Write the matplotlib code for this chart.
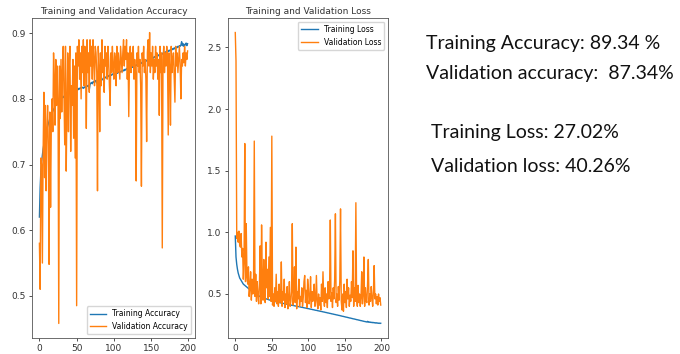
import numpy as np
import matplotlib
matplotlib.use('Agg')
import matplotlib.pyplot as plt

# ── Data (200 epochs) ────────────────────────────────────────────────────────
epochs = list(range(200))

train_acc = [
    0.620, 0.665, 0.690, 0.705, 0.715, 0.724, 0.731, 0.738, 0.744, 0.749,
    0.754, 0.758, 0.762, 0.766, 0.770, 0.773, 0.776, 0.779, 0.781, 0.784,
    0.786, 0.788, 0.790, 0.792, 0.793, 0.795, 0.796, 0.798, 0.799, 0.800,
    0.801, 0.803, 0.802, 0.804, 0.805, 0.804, 0.806, 0.807, 0.806, 0.808,
    0.809, 0.808, 0.810, 0.811, 0.810, 0.812, 0.811, 0.813, 0.812, 0.814,
    0.813, 0.815, 0.814, 0.816, 0.815, 0.817, 0.816, 0.818, 0.817, 0.816,
    0.818, 0.817, 0.819, 0.818, 0.820, 0.819, 0.821, 0.814, 0.822, 0.824,
    0.825, 0.823, 0.826, 0.825, 0.827, 0.826, 0.828, 0.824, 0.827, 0.829,
    0.828, 0.830, 0.829, 0.831, 0.830, 0.829, 0.832, 0.831, 0.833, 0.832,
    0.834, 0.833, 0.835, 0.834, 0.836, 0.835, 0.837, 0.836, 0.838, 0.837,
    0.838, 0.837, 0.839, 0.838, 0.840, 0.839, 0.841, 0.840, 0.842, 0.841,
    0.842, 0.843, 0.842, 0.844, 0.843, 0.845, 0.844, 0.846, 0.845, 0.847,
    0.846, 0.847, 0.848, 0.847, 0.849, 0.848, 0.850, 0.849, 0.851, 0.850,
    0.852, 0.851, 0.853, 0.852, 0.854, 0.853, 0.855, 0.854, 0.856, 0.855,
    0.857, 0.856, 0.858, 0.857, 0.859, 0.858, 0.860, 0.859, 0.861, 0.860,
    0.862, 0.861, 0.863, 0.862, 0.864, 0.863, 0.865, 0.864, 0.866, 0.865,
    0.867, 0.866, 0.868, 0.867, 0.869, 0.868, 0.870, 0.869, 0.871, 0.870,
    0.872, 0.871, 0.873, 0.872, 0.874, 0.873, 0.875, 0.874, 0.876, 0.875,
    0.877, 0.876, 0.878, 0.877, 0.879, 0.878, 0.880, 0.879, 0.881, 0.880,
    0.882, 0.887, 0.881, 0.884, 0.880, 0.883, 0.882, 0.885, 0.881, 0.884,
]

val_acc = [
    0.580, 0.510, 0.710, 0.700, 0.550, 0.720, 0.810, 0.680, 0.790, 0.660,
    0.750, 0.790, 0.730, 0.548, 0.780, 0.635, 0.760, 0.800, 0.750, 0.870,
    0.830, 0.760, 0.860, 0.790, 0.850, 0.800, 0.458, 0.850, 0.770, 0.860,
    0.780, 0.840, 0.880, 0.810, 0.730, 0.880, 0.690, 0.790, 0.870, 0.750,
    0.850, 0.880, 0.720, 0.820, 0.790, 0.860, 0.740, 0.850, 0.710, 0.870,
    0.485, 0.880, 0.850, 0.890, 0.830, 0.870, 0.800, 0.880, 0.840, 0.890,
    0.820, 0.880, 0.860, 0.755, 0.890, 0.840, 0.870, 0.810, 0.890, 0.850,
    0.880, 0.830, 0.890, 0.860, 0.820, 0.880, 0.870, 0.840, 0.660, 0.880,
    0.850, 0.750, 0.870, 0.820, 0.890, 0.840, 0.860, 0.810, 0.880, 0.850,
    0.870, 0.830, 0.880, 0.860, 0.820, 0.790, 0.870, 0.840, 0.880, 0.850,
    0.830, 0.870, 0.860, 0.820, 0.880, 0.840, 0.870, 0.850, 0.830, 0.880,
    0.860, 0.840, 0.870, 0.890, 0.850, 0.880, 0.860, 0.890, 0.830, 0.870,
    0.773, 0.860, 0.880, 0.840, 0.870, 0.850, 0.880, 0.830, 0.860, 0.840,
    0.675, 0.870, 0.850, 0.880, 0.840, 0.860, 0.820, 0.667, 0.870, 0.850,
    0.880, 0.840, 0.860, 0.830, 0.735, 0.870, 0.890, 0.850, 0.901, 0.840,
    0.870, 0.850, 0.880, 0.830, 0.860, 0.840, 0.880, 0.850, 0.870, 0.830,
    0.860, 0.775, 0.880, 0.840, 0.870, 0.573, 0.860, 0.880, 0.840, 0.870,
    0.850, 0.880, 0.860, 0.745, 0.870, 0.850, 0.760, 0.880, 0.840, 0.860,
    0.870, 0.830, 0.795, 0.880, 0.850, 0.870, 0.840, 0.860, 0.880, 0.850,
    0.800, 0.860, 0.850, 0.870, 0.855, 0.880, 0.850, 0.870, 0.860, 0.873,
]

train_loss = [
    0.970, 0.800, 0.740, 0.700, 0.670, 0.650, 0.630, 0.620, 0.610, 0.600,
    0.590, 0.580, 0.575, 0.570, 0.565, 0.560, 0.555, 0.550, 0.545, 0.540,
    0.535, 0.530, 0.525, 0.520, 0.515, 0.510, 0.505, 0.500, 0.497, 0.494,
    0.491, 0.488, 0.485, 0.482, 0.479, 0.476, 0.474, 0.471, 0.469, 0.467,
    0.465, 0.463, 0.461, 0.459, 0.457, 0.455, 0.453, 0.451, 0.449, 0.447,
    0.446, 0.444, 0.443, 0.441, 0.440, 0.438, 0.437, 0.435, 0.434, 0.432,
    0.431, 0.430, 0.428, 0.427, 0.426, 0.424, 0.423, 0.422, 0.420, 0.419,
    0.418, 0.417, 0.415, 0.414, 0.413, 0.412, 0.410, 0.409, 0.408, 0.407,
    0.406, 0.404, 0.403, 0.402, 0.401, 0.399, 0.398, 0.397, 0.396, 0.395,
    0.393, 0.392, 0.391, 0.390, 0.388, 0.387, 0.386, 0.385, 0.383, 0.382,
    0.381, 0.380, 0.378, 0.377, 0.376, 0.375, 0.373, 0.372, 0.371, 0.369,
    0.368, 0.367, 0.366, 0.364, 0.363, 0.362, 0.360, 0.359, 0.358, 0.357,
    0.355, 0.354, 0.353, 0.351, 0.350, 0.349, 0.347, 0.346, 0.345, 0.343,
    0.342, 0.341, 0.339, 0.338, 0.337, 0.335, 0.334, 0.333, 0.331, 0.330,
    0.329, 0.327, 0.326, 0.325, 0.323, 0.322, 0.320, 0.319, 0.318, 0.316,
    0.315, 0.313, 0.312, 0.311, 0.309, 0.308, 0.306, 0.305, 0.304, 0.302,
    0.301, 0.299, 0.298, 0.297, 0.295, 0.294, 0.292, 0.291, 0.290, 0.288,
    0.287, 0.285, 0.284, 0.283, 0.281, 0.280, 0.278, 0.277, 0.276, 0.274,
    0.273, 0.278, 0.271, 0.274, 0.270, 0.272, 0.268, 0.271, 0.267, 0.269,
    0.266, 0.268, 0.264, 0.267, 0.263, 0.265, 0.262, 0.264, 0.261, 0.263,
]

val_loss = [
    2.62, 2.39, 0.95, 1.00, 0.92, 1.01, 0.90, 0.88, 0.99, 0.80,
    0.87, 0.62, 0.75, 1.72, 0.60, 1.07, 0.65, 0.58, 0.72, 0.48,
    0.55, 0.68, 0.45, 0.62, 0.50, 0.58, 1.74, 0.48, 0.66, 0.44,
    0.60, 0.50, 0.42, 0.56, 0.89, 0.42, 1.06, 0.63, 0.45, 0.78,
    0.52, 0.43, 0.92, 0.55, 0.70, 0.46, 0.80, 0.48, 1.04, 0.44,
    1.78, 0.41, 0.50, 0.40, 0.55, 0.44, 0.66, 0.42, 0.52, 0.40,
    0.58, 0.43, 0.48, 0.76, 0.40, 0.52, 0.45, 0.62, 0.39, 0.50,
    0.42, 0.56, 0.38, 0.46, 0.60, 0.40, 0.44, 0.52, 1.07, 0.41,
    0.50, 0.72, 0.43, 0.88, 0.38, 0.52, 0.46, 0.62, 0.40, 0.48,
    0.44, 0.55, 0.40, 0.47, 0.60, 0.65, 0.43, 0.53, 0.39, 0.62,
    0.55, 0.42, 0.46, 0.64, 0.39, 0.52, 0.44, 0.48, 0.58, 0.40,
    0.45, 0.65, 0.43, 0.38, 0.50, 0.41, 0.47, 0.37, 0.58, 0.44,
    0.68, 0.46, 0.40, 0.55, 0.43, 0.50, 0.39, 0.60, 0.46, 0.52,
    1.10, 0.44, 0.51, 0.39, 0.55, 0.46, 0.62, 1.15, 0.43, 0.50,
    0.40, 0.56, 0.45, 0.61, 1.19, 0.44, 0.37, 0.50, 0.36, 0.58,
    0.43, 0.52, 0.39, 0.62, 0.46, 0.55, 0.40, 0.49, 0.44, 0.60,
    0.47, 0.85, 0.40, 0.55, 0.44, 1.24, 0.46, 0.40, 0.57, 0.43,
    0.50, 0.40, 0.47, 0.68, 0.42, 0.49, 0.80, 0.40, 0.55, 0.45,
    0.43, 0.58, 0.78, 0.41, 0.50, 0.44, 0.56, 0.47, 0.40, 0.52,
    0.73, 0.46, 0.50, 0.42, 0.48, 0.41, 0.50, 0.44, 0.47, 0.41,
]

summary_lines = [
    'Training Accuracy: 89.34 %',
    'Validation accuracy:  87.34%',
    'Training Loss: 27.02%',
    'Validation loss: 40.26%',
]

# ── Figure ───────────────────────────────────────────────────────────────────
TXT = '#333333'
plt.rcParams['font.size'] = 6.5
plt.rcParams['xtick.color'] = TXT
plt.rcParams['ytick.color'] = TXT
plt.rcParams['xtick.labelcolor'] = TXT
plt.rcParams['ytick.labelcolor'] = TXT

fig = plt.figure(figsize=(6.8, 3.54), dpi=100)
fig.patch.set_facecolor('white')

ax1 = fig.add_axes([32/680, 16/354, 163/680, 320/354])
ax2 = fig.add_axes([228/680, 16/354, 160/680, 320/354])

ax1.plot(epochs, train_acc, color='#1f77b4', lw=1.0, label='Training Accuracy')
ax1.plot(epochs, val_acc, color='#ff7f0e', lw=1.0, label='Validation Accuracy')
ax1.set_title('Training and Validation Accuracy', fontsize=6.5, color=TXT, pad=3)
ax1.legend(loc='lower right', fontsize=5.5, handlelength=2.2)
ax1.set_yticks([0.5, 0.6, 0.7, 0.8, 0.9])

ax2.plot(epochs, train_loss, color='#1f77b4', lw=1.0, label='Training Loss')
ax2.plot(epochs, val_loss, color='#ff7f0e', lw=1.0, label='Validation Loss')
ax2.set_title('Training and Validation Loss', fontsize=6.5, color=TXT, pad=3)
ax2.legend(loc='upper right', fontsize=5.5, handlelength=2.2)

for ax in (ax1, ax2):
    ax.set_xticks([0, 50, 100, 150, 200])
    ax.tick_params(labelsize=6.5, length=2.5, width=0.6, pad=2)
    for s in ax.spines.values():
        s.set_linewidth(0.6)
        s.set_color('#555555')

# ── Summary text on the right ────────────────────────────────────────────────
fig.text(426/680, 1 - 49/354, summary_lines[0], fontsize=14, family='Lato', color='#111111')
fig.text(426/680, 1 - 79/354, summary_lines[1], fontsize=14, family='Lato', color='#111111')
fig.text(431/680, 1 - 138/354, summary_lines[2], fontsize=14, family='Lato', color='#111111')
fig.text(431/680, 1 - 172/354, summary_lines[3], fontsize=14, family='Lato', color='#111111')

fig.savefig('out.png', dpi=100, facecolor='white')
